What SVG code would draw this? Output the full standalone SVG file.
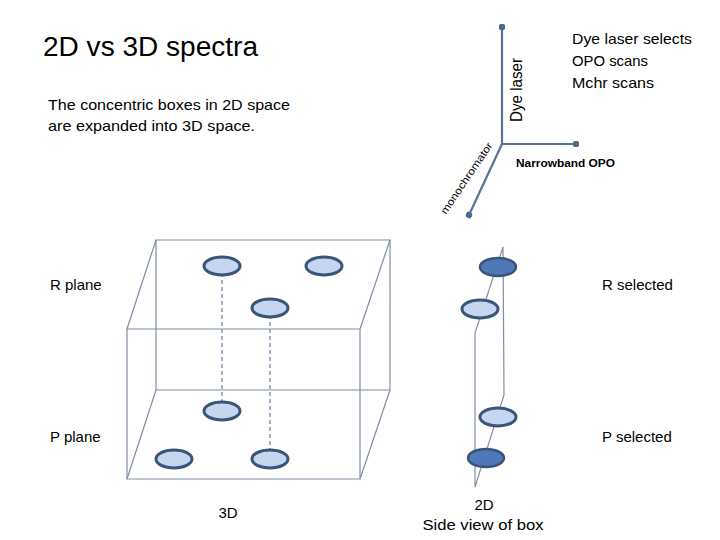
<svg xmlns="http://www.w3.org/2000/svg" width="720" height="540" viewBox="0 0 720 540">
<defs>
<marker id="dot" viewBox="0 0 6 6" refX="3" refY="3" markerWidth="3" markerHeight="3" orient="auto">
<circle cx="3" cy="3" r="3" fill="#4f6a8f"/>
</marker>
<style>
text{font-family:"Liberation Sans",Arial,sans-serif;fill:#000}
.t15{font-size:15px}
.axis{stroke:#5a7394;stroke-width:2.2;fill:none;marker-end:url(#dot)}
.edge{stroke:#7e8ea6;stroke-width:1.2;fill:none}
.dash{stroke:#6a7f9e;stroke-width:1.2;stroke-dasharray:4 3;fill:none}
.light{fill:#c6d6f0;stroke:#3c5478;stroke-width:3}
.dark{fill:#4e78b8;stroke:#3c5478;stroke-width:2.5}
</style>
</defs>
<rect width="720" height="540" fill="#fff"/>
<text x="43" y="56" font-size="27" textLength="215" lengthAdjust="spacingAndGlyphs">2D vs 3D spectra</text>
<text class="t15" x="48" y="110" textLength="242" lengthAdjust="spacingAndGlyphs">The concentric boxes in 2D space</text>
<text class="t15" x="48" y="131" textLength="207" lengthAdjust="spacingAndGlyphs">are expanded into 3D space.</text>
<g id="connectors">
<path class="axis" d="M502 144 L502 27"/>
<path class="axis" d="M502 144 L576 144"/>
<path class="axis" d="M502 144 L469 215"/>
</g>
<g id="axis-labels">
<text x="0" y="0" font-size="16" textLength="64" lengthAdjust="spacingAndGlyphs" transform="translate(522 122) rotate(-90)">Dye laser</text>
<text x="516" y="167" font-size="11" font-weight="bold" textLength="99" lengthAdjust="spacingAndGlyphs">Narrowband OPO</text>
<text x="0" y="0" font-size="10.5" textLength="84" lengthAdjust="spacingAndGlyphs" transform="translate(446 215) rotate(-56)">monochromator</text>
<text class="t15" x="572" y="44" textLength="120" lengthAdjust="spacingAndGlyphs">Dye laser selects</text>
<text class="t15" x="572" y="66" textLength="76" lengthAdjust="spacingAndGlyphs">OPO scans</text>
<text class="t15" x="572" y="88" textLength="82" lengthAdjust="spacingAndGlyphs">Mchr scans</text>
</g>
<g id="box3d">
<path class="edge" d="M156 240 H390 V390 H156 Z"/>
<path class="edge" d="M127 329 H360 V479 H127 Z"/>
<path class="edge" d="M156 240 L127 329 M390 240 L360 329 M156 390 L127 479 M390 390 L360 479"/>
<path class="dash" d="M222 266 V411 M270 308 V459"/>
<ellipse class="light" cx="222" cy="266" rx="18" ry="9"/>
<ellipse class="light" cx="324" cy="266" rx="18" ry="9"/>
<ellipse class="light" cx="270" cy="308" rx="18" ry="9"/>
<ellipse class="light" cx="222" cy="411" rx="18" ry="9"/>
<ellipse class="light" cx="174" cy="459" rx="18" ry="9"/>
<ellipse class="light" cx="270" cy="459" rx="18" ry="9"/>
<text class="t15" x="228" y="518" text-anchor="middle">3D</text>
</g>
<g id="side2d">
<path class="edge" d="M503 247 L475 333 L475 487 L504 395 Z"/>
<ellipse class="dark" cx="498" cy="267" rx="18" ry="9"/>
<ellipse class="light" cx="480" cy="309" rx="18" ry="9"/>
<ellipse class="light" cx="498" cy="417" rx="18" ry="9"/>
<ellipse class="dark" cx="486" cy="458" rx="18" ry="9"/>
<text class="t15" x="484" y="510" text-anchor="middle">2D</text>
<text class="t15" x="483" y="530" text-anchor="middle" textLength="121" lengthAdjust="spacingAndGlyphs">Side view of box</text>
</g>
<g id="labels">
<text class="t15" x="50" y="290">R plane</text>
<text class="t15" x="50" y="442">P plane</text>
<text class="t15" x="602" y="290">R selected</text>
<text class="t15" x="602" y="442">P selected</text>
</g>
</svg>
